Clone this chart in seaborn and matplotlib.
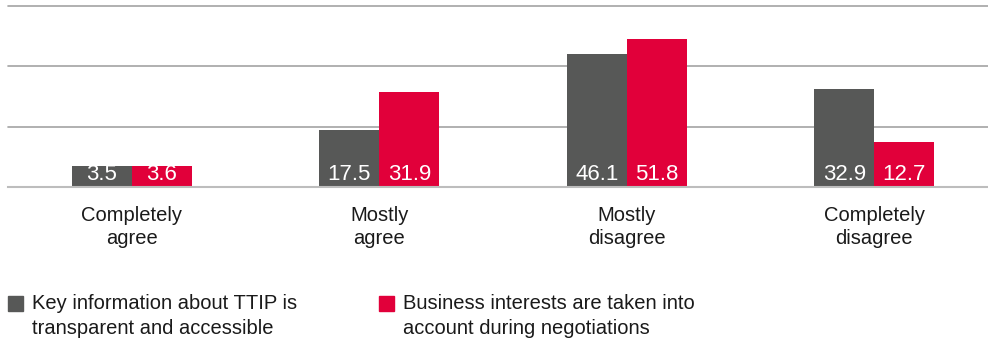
import matplotlib
matplotlib.use("Agg")
import matplotlib.pyplot as plt
from matplotlib.patches import Rectangle
import numpy as np
import seaborn as sns
import pandas as pd

# Survey answers per statement
categories = ["Completely\nagree", "Mostly\nagree", "Mostly\ndisagree", "Completely\ndisagree"]
series_names = [
    "Key information about TTIP is\ntransparent and accessible",
    "Business interests are taken into\naccount during negotiations",
]
transparent_values = [3.5, 17.5, 46.1, 32.9]
business_values = [3.6, 31.9, 51.8, 12.7]

GRAY = "#575857"
RED = "#E1003A"
TEXT = "#1a1a1a"
FONT = "Liberation Sans"

df = pd.DataFrame({
    "category": categories * 2,
    "series": [series_names[0]] * 4 + [series_names[1]] * 4,
    "value": transparent_values + business_values,
})

sns.set_theme(style="white")
plt.rcParams["font.family"] = [FONT, "DejaVu Sans"]

W, H = 988, 343
fig = plt.figure(figsize=(W / 100, H / 100), dpi=100)
ax = fig.add_axes([8 / W, (H - 187) / H, 990 / W, 181 / H])

sns.barplot(
    data=df, x="category", y="value", hue="series",
    order=categories, hue_order=series_names,
    palette=[GRAY, RED], saturation=1, width=0.485, gap=0,
    linewidth=0, edgecolor="none",
    legend=False, ax=ax, zorder=3,
)

# Value axis with a lifted floor so short bars still hold their labels
LIFT, SOFT = 4.4, 0.6
_grid = np.linspace(0, 200, 40001)


def _fwd(y):
    y = np.asarray(y, dtype=float)
    return y + LIFT * (1 - np.exp(-np.clip(y, 0, None) / SOFT))


def _inv(t):
    return np.interp(t, _fwd(_grid), _grid)


ax.set_yscale("function", functions=(_fwd, _inv))
t_top = 68.95
ax.set_ylim(0, float(_inv(t_top)))
ax.set_yticks([float(_inv(t_top * f)) for f in (1 / 3, 2 / 3, 1)])
ax.set_yticklabels([])
ax.yaxis.set_minor_locator(matplotlib.ticker.NullLocator())
ax.grid(axis="y", which="major", color="#a3a3a3", linewidth=1.2, zorder=0)
for gl in ax.get_ygridlines():
    gl.set_clip_on(False)
ax.tick_params(axis="y", length=0)
ax.set_xlim(-0.5, 3.5)

for side in ["top", "left", "right"]:
    ax.spines[side].set_visible(False)
ax.spines["bottom"].set_color("#bdbdbd")
ax.spines["bottom"].set_linewidth(1.5)
ax.spines["bottom"].set_zorder(4)

ax.set_xlabel("")
ax.set_ylabel("")
ax.set_xticks(range(len(categories)))
ax.set_xticklabels(categories, fontsize=14.5, color=TEXT, linespacing=1.3)
ax.tick_params(axis="x", which="major", length=0, pad=13.5)
ax.set_xticks([i - 0.5 for i in range(len(categories) + 1)], minor=True)
ax.tick_params(axis="x", which="minor", length=9.5, width=1.2, color="#bdbdbd")

# Value labels sit inside each bar, at its foot
for container in ax.containers:
    for bar in container:
        h = bar.get_height()
        ax.annotate(
            f"{h:.1f}", (bar.get_x() + bar.get_width() / 2, 0),
            xytext=(0, 1.2), textcoords="offset points",
            ha="center", va="bottom", color="white", fontsize=16, zorder=5,
        )

# Legend: square swatch followed by a two-line label
legend_items = [(8, GRAY, series_names[0]), (379, RED, series_names[1])]
for x0, color, label in legend_items:
    fig.add_artist(Rectangle((x0 / W, (H - 311) / H), 15 / W, 15 / H,
                             transform=fig.transFigure, color=color))
    fig.text((x0 + 24) / W, (H - 294) / H, label, fontsize=14.5,
             color=TEXT, va="top", ha="left", linespacing=1.38)

fig.savefig("out.png", dpi=100)
